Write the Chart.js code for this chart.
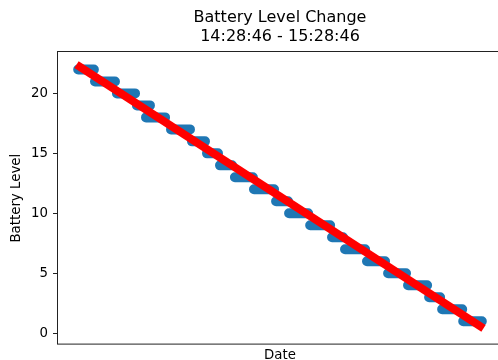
<!DOCTYPE html>
<html>
<head>
<meta charset="utf-8">
<script src="https://cdn.jsdelivr.net/npm/chart.js@4"></script>
<style>
  html, body { margin: 0; padding: 0; background: #fff; overflow: hidden; }
  #chart { display: block; }
</style>
</head>
<body>
<canvas id="chart" width="504" height="360"></canvas>
<script>
// battery readings: each level held between a start and end time (seconds after 14:28:46)
const levels = [22, 21, 20, 19, 18, 17, 16, 15, 14, 13, 12, 11, 10, 9, 8, 7, 6, 5, 4, 3, 2, 1];
const segStart = [0, 150, 346, 524, 605, 828, 1015, 1149, 1265, 1398, 1568, 1765, 1881, 2069, 2264, 2380, 2576, 2764, 2942, 3130, 3246, 3434];
const segEnd = [140, 328, 507, 640, 775, 997, 1131, 1247, 1372, 1558, 1747, 1872, 2051, 2247, 2362, 2559, 2737, 2924, 3112, 3228, 3425, 3600];

// fitted trend line
const fitTimes = [-15, 3615];
const fitLevels = [22.4, 0.4];

const yTicks = [0, 5, 10, 15, 20];
const titleLines = ['Battery Level Change', '14:28:46 - 15:28:46'];

const font = 'DejaVu Sans';

// build the step points, with a gap between levels
const stepPoints = [];
levels.forEach((lvl, i) => {
    stepPoints.push({x: segStart[i], y: lvl});
    stepPoints.push({x: segEnd[i], y: lvl});
    stepPoints.push({x: segEnd[i], y: null});
});
const fitPoints = fitTimes.map((t, i) => ({x: t, y: fitLevels[i]}));

// matplotlib-like box round the plot
const frame = {
    id: 'frame',
    afterDraw(chart) {
        const a = chart.chartArea;
        const ctx = chart.ctx;
        ctx.save();
        ctx.strokeStyle = '#222';
        ctx.lineWidth = 1;
        ctx.strokeRect(Math.round(a.left) - 0.5, Math.round(a.top) - 0.5, a.right - a.left, a.bottom - a.top + 1);
        ctx.restore();
    }
};

new Chart(document.getElementById('chart'), {
    type: 'line',
    data: {
        datasets: [{
            label: 'fit',
            data: fitPoints,
            borderColor: '#ff0000',
            borderWidth: 8,
            pointRadius: 0,
            order: 0
        }, {
            label: 'battery',
            data: stepPoints,
            borderColor: '#1f77b4',
            borderWidth: 10,
            borderCapStyle: 'round',
            pointRadius: 0,
            spanGaps: false,
            order: 1
        }]
    },
    options: {
        responsive: false,
        animation: false,
        devicePixelRatio: 1,
        layout: { padding: { left: 0, top: 0, right: 2, bottom: 0 } },
        plugins: {
            legend: { display: false },
            tooltip: { enabled: false },
            title: {
                display: true,
                text: titleLines,
                fullSize: false,
                color: '#000',
                font: { family: font, size: 16, weight: 'normal', lineHeight: 1.2 },
                padding: { top: 8, bottom: 6 }
            }
        },
        scales: {
            x: {
                type: 'linear',
                min: -180,
                max: 3780,
                ticks: { display: false },
                grid: { display: false },
                border: { display: false },
                title: {
                    display: true,
                    text: 'Date',
                    color: '#000',
                    font: { family: font, size: 13.33, lineHeight: 1.2 },
                    padding: { top: 0, bottom: -4 }
                },
                afterFit(scale) { scale.height = 16; }
            },
            y: {
                min: -0.9,
                max: 23.42,
                afterBuildTicks(scale) { scale.ticks = yTicks.map(v => ({value: v})); },
                ticks: {
                    color: '#000',
                    padding: 5,
                    font: { family: font, size: 13.33 }
                },
                grid: {
                    drawOnChartArea: false,
                    drawTicks: true,
                    tickLength: 5,
                    color: '#222'
                },
                border: { display: false },
                title: {
                    display: true,
                    text: 'Battery Level',
                    color: '#000',
                    font: { family: font, size: 13.33, lineHeight: 1.2 },
                    padding: { top: 9, bottom: 0 }
                },
                afterFit(scale) { scale.width = 58; }
            }
        }
    },
    plugins: [frame]
});
</script>
</body>
</html>
